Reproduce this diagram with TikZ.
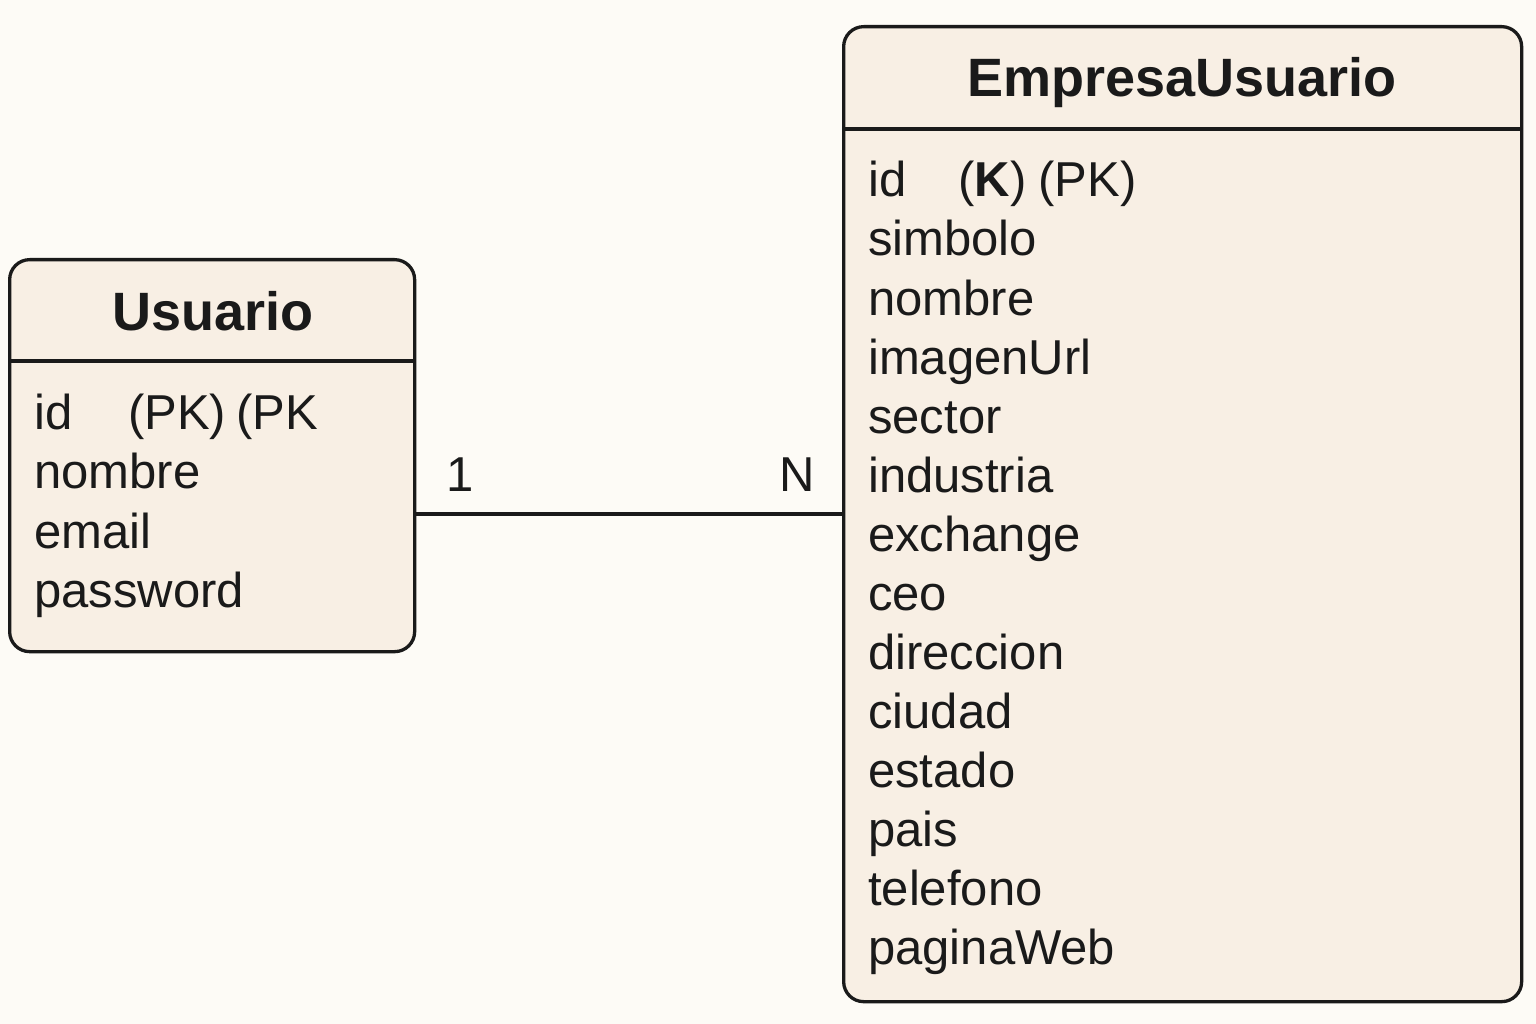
\documentclass[tikz,border=0pt]{standalone}
\usepackage{fontspec}
\setmainfont{Liberation Sans}
\definecolor{bg}{HTML}{FDFBF6}
\definecolor{boxfill}{HTML}{F8EFE4}
\definecolor{ink}{HTML}{1A1A1A}
\begin{document}
\begin{tikzpicture}[x=1pt,y=-1pt,
  entity/.style={draw=ink,fill=boxfill,line width=3.3pt,rounded corners=20pt,inner sep=0pt,anchor=north west},
  title/.style={font=\fontsize{54}{60}\selectfont\bfseries,text=ink,anchor=base,inner sep=0pt},
  attr/.style={font=\fontsize{49}{56}\selectfont,text=ink,anchor=base west,inner sep=0pt},
  card/.style={font=\fontsize{49}{56}\selectfont,text=ink,anchor=base,inner sep=0pt},
  sep/.style={draw=ink,line width=3.3pt},
  conn/.style={draw=ink,line width=3.3pt}]
\fill[bg] (0,0) rectangle (1536,1024);
\useasboundingbox (0,0) rectangle (1536,1024);
% Usuario
\node[entity,minimum width=405pt,minimum height=392pt] (usuario) at (8,258) {};
\draw[sep] (usuario.west |- 0,361) coordinate (uhl) -- (usuario.east |- 0,361) coordinate (uhr);
\node[title] (ut) at (213,330) {Usuario};
\node[attr] (u1) at (34,429) {id\hspace{56pt}(PK)\hspace{10pt}(PK};
\node[attr] (u2) at (34,488.5) {nombre};
\node[attr] (u3) at (34,548) {email};
\node[attr] (u4) at (34,607.5) {password};
% EmpresaUsuario
\node[entity,minimum width=678pt,minimum height=975pt] (empresa) at (842,25) {};
\draw[sep] (empresa.west |- 0,129) coordinate (ehl) -- (empresa.east |- 0,129) coordinate (ehr);
\node[title] (et) at (1182,97) {EmpresaUsuario};
\foreach \t [count=\i from 0] in {{id\hspace{52pt}(\textbf{K})\hspace{12pt}(PK)},simbolo,nombre,imagenUrl,sector,industria,exchange,ceo,direccion,ciudad,estado,pais,telefono,paginaWeb}{
  \node[attr] (e\i) at (868,{197+59*\i}) {\t};
}
% connector
\draw[conn] (empresa.west |- 0,514) coordinate (cr) -- (usuario.east |- 0,514) coordinate (cl);
\node[card] (c1) at (460,491) {1};
\node[card] (cN) at (797,491) {N};
\end{tikzpicture}
\end{document}
